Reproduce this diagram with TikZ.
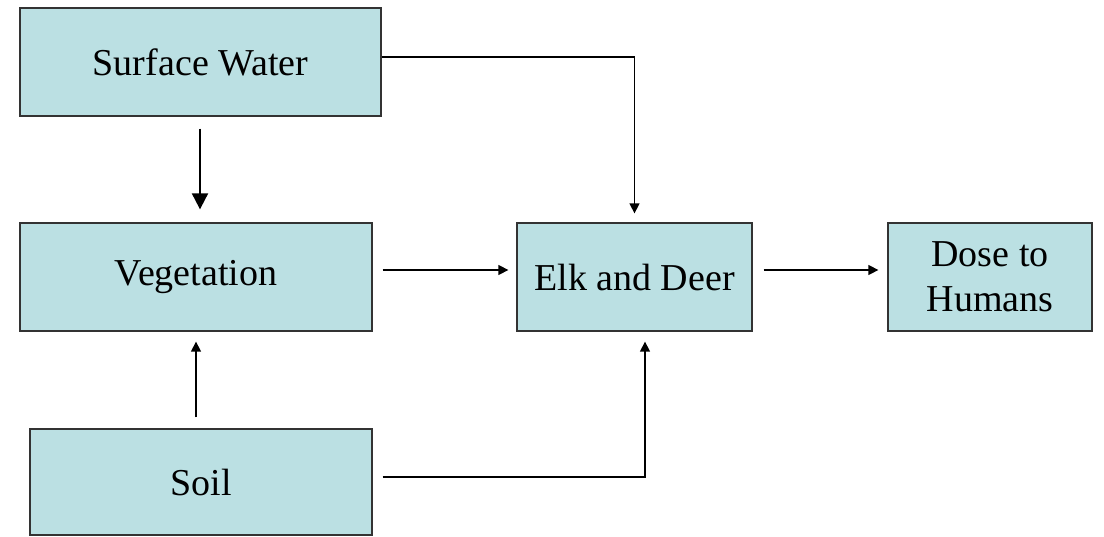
\documentclass[tikz,border=0pt]{standalone}
\usepackage{fontspec}
\setmainfont{Liberation Serif}
\usetikzlibrary{arrows.meta}

\definecolor{boxfill}{HTML}{BBE0E3}
\definecolor{boxline}{HTML}{333333}

\tikzset{
    box/.style={draw=boxline, line width=1.3pt, fill=boxfill, inner sep=0pt,
        align=center, font=\fontsize{38}{45}\selectfont},
    flow/.style={line width=1.4pt, -{Triangle[length=10pt, width=10pt]}},
    bigflow/.style={line width=2pt, -{Triangle[length=16pt, width=16pt]}}
}

\begin{document}
\begin{tikzpicture}[x=1pt, y=-1pt]
    \useasboundingbox (0,0) rectangle (1104,536);

    % Boxes
    \node[box, minimum width=361pt, minimum height=108pt] (water) at (200.5,62) {Surface Water};
    \node[box, minimum width=352pt, minimum height=108pt] (veg) at (196,277) {Vegetation};
    \node[box, minimum width=342pt, minimum height=106pt] (soil) at (201,482) {Soil};
    \node[box, minimum width=235pt, minimum height=108pt] (elk) at (634.5,277) {Elk and Deer};
    \node[box, minimum width=204pt, minimum height=108pt] (dose) at (990,277) {Dose to\\Humans};

    % Pathways
    \draw[bigflow, shorten <=12pt, shorten >=13pt] ([xshift=-0.5pt]water.south) -- ([xshift=-0.5pt]water.south |- veg.north);
    \draw[flow, shorten <=11pt, shorten >=10pt] (veg.south |- soil.north) -- (veg.south);
    \draw[flow, shorten <=10pt, shorten >=8pt] ([yshift=7pt]veg.east) -- ([yshift=7pt]veg.east -| elk.west);
    \draw[flow, shorten <=11pt, shorten >=9pt] ([yshift=7pt]elk.east) -- ([yshift=7pt]elk.east -| dose.west);
    \draw[flow, shorten >=9pt] ([yshift=5pt]water.east) -| (elk.north);
    \draw[flow, shorten <=10pt, shorten >=10pt] ([yshift=5pt]soil.east) -| ([xshift=10.5pt]elk.south);
\end{tikzpicture}
\end{document}
